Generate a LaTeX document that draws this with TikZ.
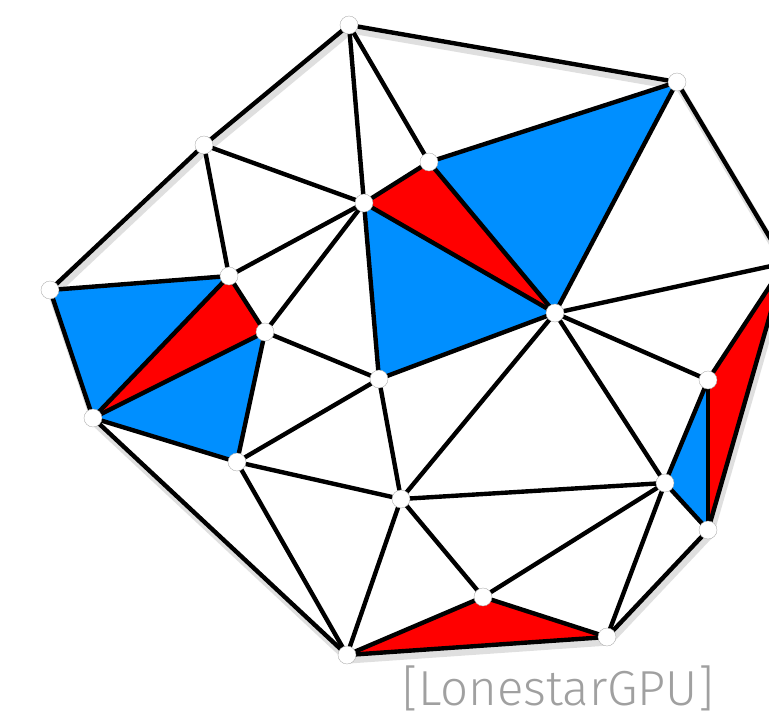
\documentclass[tikz,border=0pt]{standalone}
\usepackage{fontspec}
\newfontfamily\lightfont{Fira Sans Light}
\usetikzlibrary{backgrounds}
\definecolor{meshblue}{RGB}{0,143,255}
\definecolor{meshred}{RGB}{255,0,0}
\definecolor{labelgray}{RGB}{160,160,160}

\begin{document}
\begin{tikzpicture}[
		x=0.02cm, y=-0.02cm,
		vertex/.style={
			circle,
			draw=gray!70,
			very thin,
			fill=white,
			inner sep=0pt,
			minimum size=0.36cm
		},
		edge/.style={
			line width=2.5pt,
			line cap=round
		},
		shade/.style={
			line width=4pt,
			line cap=round,
			draw=black!25,
			opacity=0.5
		}
		]
		
		\useasboundingbox (0,0) rectangle (769,721);
		\clip (0,0) rectangle (769,721);
		
		% mesh points
		\node[vertex] (a) at (349,25) {};
		\node[vertex] (b) at (677,82) {};
		\node[vertex] (c) at (204,145) {};
		\node[vertex] (d) at (429,162) {};
		\node[vertex] (e) at (364,203) {};
		\node[vertex] (f) at (50,290) {};
		\node[vertex] (g) at (229,276) {};
		\node[vertex] (h) at (265,332) {};
		\node[vertex] (i) at (555,313) {};
		\node[vertex] (j) at (379,379) {};
		\node[vertex] (k) at (93,418) {};
		\node[vertex] (l) at (237,462) {};
		\node[vertex] (m) at (708,380) {};
		\node[vertex] (n) at (785,263) {};
		\node[vertex] (o) at (665,483) {};
		\node[vertex] (p) at (708,530) {};
		\node[vertex] (q) at (401,499) {};
		\node[vertex] (r) at (483,597) {};
		\node[vertex] (s) at (607,637) {};
		\node[vertex] (t) at (347,655) {};
		
		\begin{scope}[on background layer]
			% soft shadow of the outline
			\foreach \u/\v in {a/c, c/f, f/k, k/t, t/s, s/p, p/n, b/n, a/b}
			\draw[shade] ([shift={(2,5)}]\u.center)--([shift={(2,5)}]\v.center);
			
			% blue triangles
			\foreach \u/\v/\w in {d/b/i, e/i/j, f/g/k, k/h/l, m/o/p}
			\fill[meshblue] (\u.center)--(\v.center)--(\w.center)--cycle;
			
			% red triangles
			\foreach \u/\v/\w in {e/d/i, g/h/k, m/n/p, t/r/s}
			\fill[meshred] (\u.center)--(\v.center)--(\w.center)--cycle;
			
			% edges
			\foreach \u/\v in {a/b, a/c, a/d, a/e, b/d, b/i, b/n,
				c/e, c/f, c/g, d/e, d/i, e/g, e/h, e/i, e/j,
				f/g, f/k, g/h, g/k, h/k, h/l, h/j, k/l, k/t,
				l/j, l/q, l/t, j/i, j/q, i/n, i/m, i/o, i/q,
				m/n, m/o, m/p, n/p, o/p, o/q, o/r, o/s,
				p/s, q/r, q/t, r/t, r/s, t/s}
			\draw[edge] (\u.center)--(\v.center);
		\end{scope}
		
		\node[text=labelgray, font=\lightfont\fontsize{28}{31}\selectfont,
		inner sep=0pt, anchor=base] (label) at (558,705) {[LonestarGPU]};
		
	\end{tikzpicture}
\end{document}
